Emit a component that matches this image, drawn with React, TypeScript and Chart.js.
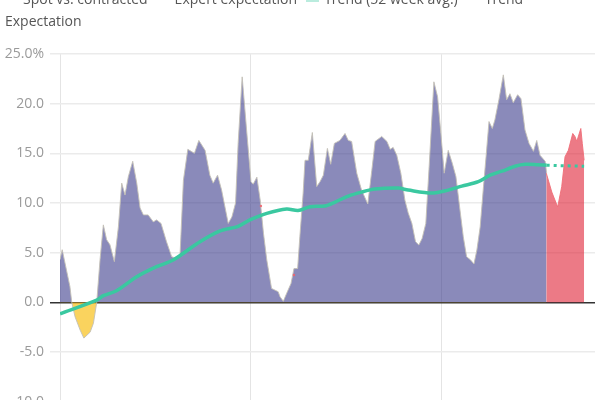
import React, { useEffect, useRef } from "react";
import { Chart, registerables } from "chart.js";

Chart.register(...registerables);

// ---- Data (x = week index, y = percent) ----
const spotWeeks = [0,0.6,2.7,3.2,4.1,5.5,6.5,8.2,9.1,10,10.9,11.8,12.7,13.6,14.8,15.9,16.8,17.7,18.6,19.8,20.9,21.8,22.7,24,25.4,26.3,27.5,29,30.4,31.8,32.7,33.6,34.8,36.6,37.8,39.5,40.8,41.7,42.9,44,45.8,46.8,47.8,48.5,49.6,50.8,52,52.6,53.6,54.5,55.4,56.3,57.6,59.4,59.9,60.8,61.7,62.9,63.7,64.7,65.3,66.2,66.7,67.6,68.7,69.9,70.8,71.7,72.8,73.7,74.7,76.2,77.6,78.5,79.4,80.8,82.1,83.8,84.9,85.8,87.6,89,89.9,90.7,91.7,92.8,93.9,94.8,95.8,96.8,97.7,98.6,99.6,100.5,101.8,102.8,103.7,104.6,105.7,106.8,107.8,108.9,109.8,110.7,111.8,112.7,113.5,114.4,115.3,116,116.8,117.7,118.4,119.5,120.7,121.6,122.5,123.4,124.6,125.5,126.6,127.7,128.9,129.8,130.7,132.1,132.5];
const spotValues = [4.3,5.3,1.6,0,-1.45,-2.8,-3.6,-3.0,-2.1,0,4.3,7.8,6.3,5.8,4.1,7.6,12.0,10.8,12.65,14.2,12.0,9.5,8.8,8.8,8.1,8.3,7.95,6.1,4.6,4.4,4.9,12.3,15.4,15.0,16.3,15.3,12.8,12.0,12.8,11.3,7.95,8.6,10.0,16.0,22.7,17.35,12.15,11.9,12.6,10.3,6.95,4.26,1.4,1.07,0.57,0.1,0.9,1.9,3.4,3.4,6.6,11.0,14.3,14.3,17.1,11.65,12.15,12.8,15.5,13.9,16.0,16.3,17.0,16.3,16.2,13.0,11.3,9.9,13.3,16.2,16.7,16.2,15.4,15.6,14.8,13.0,10.3,9.0,7.95,6.1,5.77,6.44,7.95,13.65,22.2,20.7,17.0,13.0,15.3,14.0,12.65,9.3,6.6,4.6,4.26,3.86,5.27,7.6,11.65,14.66,18.2,17.5,18.36,20.4,22.9,20.4,21.0,20.1,20.9,20.5,17.35,16.0,15.2,16.3,14.8,14.2,13.0];

const expertWeeks = [132.4,133.9,135.5,136.6,137.5,138.4,139.6,140.2,140.7,141.8,142.2,142.7];
const expertValues = [13.0,11.1,9.6,11.65,14.66,15.3,17.0,16.7,16.2,17.5,16.0,14.3];

const expertDotWeeks = [54.7,63.7];
const expertDotValues = [9.7,2.75];

const trendWeeks = [0,10,11.8,15.4,20.9,26.3,30.8,38.1,43.6,48.5,51.7,56.3,61.7,64.8,68.1,72.1,74.9,78.5,82.1,85.8,92.1,94.8,101.2,105.7,109.4,113.9,117.1,120.3,123.9,126.6,130.2,132.5];
const trendValues = [-1.15,0.23,0.67,1.17,2.58,3.59,4.26,6.1,7.2,7.65,8.3,8.96,9.4,9.25,9.63,9.7,10.1,10.7,11.1,11.4,11.5,11.3,11.0,11.3,11.7,12.15,12.8,13.2,13.7,13.9,13.85,13.8];

const trendExpWeeks = [132.5,142.7];
const trendExpValues = [13.8,13.7];

const gridWeeks = [0,52,104];
const legendLabels = ["Spot vs. contracted","Expert expectation","Trend (52 week avg.)","Trend Expectation"];

const TEAL = "#3ac8a0";
const FONT = "'Open Sans', sans-serif";

const toXY = (xs: number[], ys: number[]) => xs.map((x, i) => ({ x, y: ys[i] }));

export default function App() {
  const ref = useRef<HTMLCanvasElement | null>(null);

  useEffect(() => {
    if (!ref.current) return;
    Chart.defaults.font.family = FONT;
    const chart = new Chart(ref.current, {
      type: "line",
      data: {
        datasets: [
          {
            label: legendLabels[2],
            data: toXY(trendWeeks, trendValues),
            borderColor: TEAL,
            borderWidth: 3.5,
            pointRadius: 0,
            tension: 0.3,
            fill: false,
            order: 0,
          },
          {
            label: legendLabels[3],
            data: toXY(trendExpWeeks, trendExpValues),
            borderColor: TEAL,
            borderWidth: 3,
            borderDash: [3, 4],
            pointRadius: 0,
            fill: false,
            order: 0,
          },
          {
            label: "expert-dots",
            data: toXY(expertDotWeeks, expertDotValues),
            showLine: false,
            pointRadius: 1.2,
            pointBorderWidth: 0,
            pointBackgroundColor: "rgba(240,100,110,0.9)",
            order: 0,
          },
          {
            label: legendLabels[0],
            data: toXY(spotWeeks, spotValues),
            borderColor: "rgba(195,192,182,0.9)",
            borderWidth: 1,
            pointRadius: 0,
            tension: 0,
            fill: {
              target: "origin",
              above: "rgba(60,60,140,0.6)",
              below: "rgba(248,193,26,0.7)",
            },
            order: 2,
          },
          {
            label: legendLabels[1],
            data: toXY(expertWeeks, expertValues),
            borderColor: "rgba(240,110,120,0.9)",
            backgroundColor: "rgba(223,33,53,0.6)",
            borderWidth: 1,
            pointRadius: 0,
            tension: 0,
            fill: "origin",
            order: 1,
          },
        ],
      },
      options: {
        responsive: false,
        animation: false,
        layout: { padding: { top: 54, right: 5, bottom: 18.3, left: 0 } },
        plugins: {
          legend: { display: false },
          tooltip: { enabled: false },
        },
        scales: {
          x: {
            type: "linear",
            min: 0,
            max: 145.66,
            afterBuildTicks: (s: any) => {
              s.ticks = gridWeeks.map((v) => ({ value: v }));
            },
            afterFit: (s: any) => {
              s.height = 0;
              s.paddingLeft = 0;
              s.paddingRight = 0;
            },
            ticks: { display: false },
            grid: { color: "#e4e4e4", lineWidth: 1, drawTicks: false },
            border: { display: false },
          },
          y: {
            min: -10,
            max: 25,
            afterFit: (s: any) => {
              s.width = 60;
            },
            ticks: {
              stepSize: 5,
              padding: 6,
              color: "#9a9a9a",
              font: { family: FONT, size: 14 },
              callback: (v: any) => (Number(v) === 25 ? "25.0%" : Number(v).toFixed(1)),
            },
            grid: {
              color: (ctx: any) => (ctx.tick && ctx.tick.value === 0 ? "#333333" : "#ebebeb"),
              lineWidth: 1.5,
              tickLength: 10,
            },
            border: { display: false },
          },
        },
      },
    });
    return () => chart.destroy();
  }, []);

  const markerBase: React.CSSProperties = {
    display: "inline-block",
    width: 13,
    marginRight: 5,
  };
  const markers: React.CSSProperties[] = [
    { ...markerBase, height: 3, background: "rgba(60,60,140,0.6)", verticalAlign: "7px" },
    { ...markerBase, height: 3, background: "rgba(223,33,53,0.6)", verticalAlign: "7px" },
    { ...markerBase, height: 13, background: "rgba(58,200,160,0.35)", verticalAlign: "2px" },
    { ...markerBase, height: 3, background: "rgba(58,200,160,0.6)", verticalAlign: "7px" },
  ];

  return (
    <div
      style={{
        position: "fixed",
        top: 0,
        left: 0,
        width: 600,
        height: 400,
        overflow: "hidden",
        background: "#fff",
      }}
    >
      <canvas
        ref={ref}
        width={600}
        height={420}
        style={{ position: "absolute", top: 0, left: 0, width: 600, height: 420 }}
      />
      <div
        style={{
          position: "absolute",
          top: -12,
          left: 5,
          width: 590,
          fontFamily: FONT,
          fontSize: 14,
          lineHeight: "22px",
          color: "#555",
        }}
      >
        {legendLabels.map((t, i) => (
          <span key={t} style={{ marginRight: 9 }}>
            <span style={markers[i]} />
            {t}
          </span>
        ))}
      </div>
    </div>
  );
}
